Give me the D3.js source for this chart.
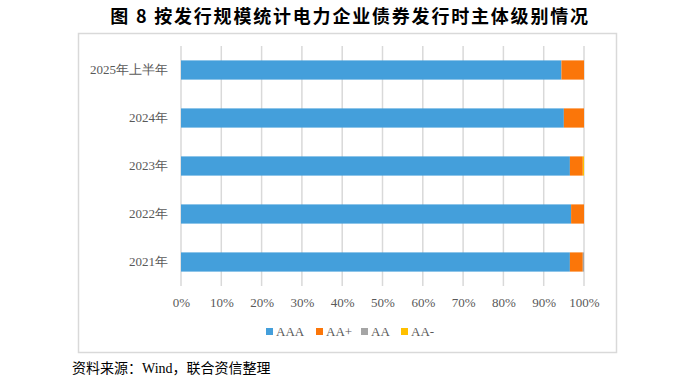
<!DOCTYPE html>
<html><head><meta charset="utf-8">
<script src="https://cdn.jsdelivr.net/npm/d3@7"></script>
<style>body{margin:0;background:#fff;} svg{display:block;}</style>
</head><body>
<script>
const categories = ["2025年上半年","2024年","2023年","2022年","2021年"];
const seriesNames = ["AAA","AA+","AA","AA-"];
const AAA = [94.4, 95.0, 96.5, 96.8, 96.5];
const AAplus = [5.6, 5.0, 3.2, 3.2, 3.2];
const AA = [0, 0, 0, 0, 0.3];
const AAminus = [0, 0, 0.3, 0, 0];
const xTicks = [0,10,20,30,40,50,60,70,80,90,100];
const colors = ["#449fdb","#fb7609","#a5a5a5","#ffc000"];

const W=700,H=381;
const svg=d3.select("body").append("svg").attr("width",W).attr("height",H);
svg.append("text").attr("x",350).attr("y",23).attr("text-anchor","middle")
  .attr("font-family","'Noto Sans CJK SC','Liberation Serif'").attr("font-weight","bold")
  .attr("font-size",18).attr("letter-spacing",1.8).attr("fill","#000").text("图 8  按发行规模统计电力企业债券发行时主体级别情况");
svg.append("rect").attr("x",78.5).attr("y",33.5).attr("width",538).attr("height",319)
  .attr("fill","#fff").attr("stroke","#d9d9d9").attr("stroke-width",1.5);

const x=d3.scaleLinear().domain([0,100]).range([181,584]);
const y=d3.scaleBand().domain(categories).range([46,286]).paddingInner(0.6).paddingOuter(0.3);

const g=svg.append("g");
g.selectAll("line.grid").data(xTicks).join("line").attr("class","grid")
  .attr("x1",d=>x(d)).attr("x2",d=>x(d)).attr("y1",46).attr("y2",286)
  .attr("stroke","#d9d9d9").attr("stroke-width",1.5);

const rows=categories.map((c,i)=>({cat:c,AAA:AAA[i],"AA+":AAplus[i],"AA":AA[i],"AA-":AAminus[i]}));
const stack=d3.stack().keys(seriesNames)(rows);
stack.forEach((s,si)=>{
  g.selectAll(null).data(s).join("rect")
   .attr("x",d=>x(d[0])).attr("width",d=>x(d[1])-x(d[0]))
   .attr("y",d=>y(d.data.cat)).attr("height",y.bandwidth())
   .attr("fill",colors[si]);
});

const ya=d3.axisLeft(y).tickSize(0).tickPadding(13);
const yg=svg.append("g").attr("transform","translate(181,0)").call(ya);
yg.select(".domain").remove();
yg.selectAll("text").attr("font-family","'Liberation Serif'").attr("font-size",13).attr("fill","#595959");

const xa=d3.axisBottom(x).tickValues(xTicks).tickFormat(d=>d+"%").tickSize(0).tickPadding(12);
const xg=svg.append("g").attr("transform","translate(0,286)").call(xa);
xg.select(".domain").remove();
xg.selectAll("text").attr("font-family","'Liberation Serif'").attr("font-size",13).attr("fill","#595959");

const legX=[266,316,361,401];
const lg=svg.append("g");
seriesNames.forEach((n,i)=>{
  lg.append("rect").attr("x",legX[i]).attr("y",328).attr("width",7).attr("height",7).attr("fill",colors[i]);
  lg.append("text").attr("x",legX[i]+10).attr("y",336).attr("font-family","'Liberation Serif'")
    .attr("font-size",13).attr("fill","#595959").text(n);
});

svg.append("text").attr("x",72).attr("y",373).attr("font-family","'Liberation Serif','Noto Sans CJK SC'")
  .attr("font-size",14).attr("fill","#000").text("资料来源：Wind，联合资信整理");
</script>
</body></html>
